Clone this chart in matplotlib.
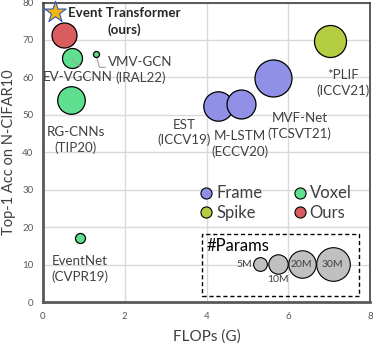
import matplotlib
matplotlib.use("Agg")
import matplotlib.pyplot as plt
import numpy as np

plt.rcParams['font.family'] = ['Lato', 'DejaVu Sans']

# ---- data ----
methods = ["EST\n(ICCV19)", "M-LSTM\n(ECCV20)", "MVF-Net\n(TCSVT21)",
           "EV-VGCNN", "VMV-GCN\n(IRAL22)", "RG-CNNs\n(TIP20)",
           "EventNet\n(CVPR19)", "*PLIF\n(ICCV21)", "Ours"]
flops = [4.29, 4.84, 5.63, 0.70, 1.30, 0.69, 0.91, 7.03, 0.52]
acc = [52.3, 53.0, 59.9, 65.2, 66.3, 54.0, 17.1, 69.6, 71.2]
params_m = [23.0, 22.3, 36.4, 10.6, 0.96, 20.2, 2.66, 27.2, 16.6]
rep = ["Frame", "Frame", "Frame", "Voxel", "Voxel", "Voxel", "Voxel", "Spike", "Ours"]

label_pos = [(3.45, 45.3), (4.82, 42.2), (6.28, 47.0), (0.86, 60.1),
             (2.38, 62.0), (0.80, 43.3), (0.91, 8.8), (7.33, 58.5), None]

legend_sizes = [5, 10, 20, 30]
legend_size_labels = ["5M", "10M", "20M", "30M"]

x_ticks = [0, 2, 4, 6, 8]
y_ticks = [0, 10, 20, 30, 40, 50, 60, 70, 80]

colors = {"Frame": "#8f90e6", "Voxel": "#5fe090", "Spike": "#b4cd42", "Ours": "#d95d5e"}
text_col = "#404040"

def msize(p):
    r_px = 16.8 * np.sqrt(np.asarray(p) / 30.0)
    return (2 * r_px * 0.72) ** 2

fig = plt.figure(figsize=(3.73, 3.44), dpi=100)
ax = fig.add_axes([43/373, 1 - 302/344, 327/373, 299.5/344])
ax.set_xlim(0, 8)
ax.set_ylim(0, 80)
ax.set_xticks(x_ticks)
ax.set_yticks(y_ticks)
ax.grid(True, color="#d9d9d9", linewidth=1.0, zorder=0)
ax.set_axisbelow(True)
ax.tick_params(length=0, labelsize=7, labelcolor="#595959", pad=7)
for s in ["left", "bottom"]:
    ax.spines[s].set_color("#595959")
    ax.spines[s].set_linewidth(2.0)
for s in ["top", "right"]:
    ax.spines[s].set_color("#404040")
    ax.spines[s].set_linewidth(1.2)

ax.set_xlabel("FLOPs (G)", fontsize=11, color=text_col, labelpad=6)
ax.set_ylabel("Top-1 Acc on N-CIFAR10", fontsize=10.5, color=text_col, labelpad=4)

# bubbles
for i in range(len(methods)):
    ax.scatter(flops[i], acc[i], s=msize(params_m[i]), c=colors[rep[i]],
               edgecolors="black", linewidths=0.9, zorder=3)

# labels
for i, m in enumerate(methods):
    if label_pos[i] is None:
        continue
    ax.text(label_pos[i][0], label_pos[i][1], m, ha="center", va="center",
            fontsize=9.6, color=text_col, linespacing=1.3, zorder=4)

# leader lines
ax.plot([1.30, 1.38, 1.52], [66.0, 62.7, 62.7], color="#a0a0a0", lw=0.8, zorder=2)
ax.plot([0.72, 0.89], [64.8, 63.0], color="#a0a0a0", lw=0.8, zorder=4)

# star and ours label
ax.scatter(0.29, 77.5, marker="*", s=260, c="#f5b50a", edgecolors="#2f55c0",
           linewidths=0.8, zorder=5, clip_on=False)
ax.text(1.98, 74.9, "Event Transformer\n(ours)", ha="center", va="center",
        fontsize=9.6, fontweight="bold", color="#262626", linespacing=1.45, zorder=5)

# category legend
handles = [plt.Line2D([], [], marker="o", linestyle="none", markersize=8,
                      markerfacecolor=colors[k], markeredgecolor="black",
                      markeredgewidth=0.8, label=k)
           for k in ["Frame", "Spike", "Voxel", "Ours"]]
leg = ax.legend(handles=handles, ncol=2, loc="center left",
                bbox_to_anchor=(0.473, 0.33), frameon=False, fontsize=12,
                handletextpad=0.1, columnspacing=1.75, labelspacing=0.2,
                borderpad=0, borderaxespad=0, handlelength=1.0)
for t in leg.get_texts():
    t.set_color(text_col)

# size legend box
box = plt.Rectangle((3.9, 1.6), 3.84, 16.5, fill=False, linestyle=(0, (3, 2)),
                    edgecolor="black", linewidth=1.0, zorder=4)
ax.add_patch(box)
ax.text(4.0, 15.0, "#Params", ha="left", va="center", fontsize=12, color="black", zorder=5)
lx = [5.31, 5.74, 6.33, 7.09]
for j, p in enumerate(legend_sizes):
    ax.scatter(lx[j], 10.05, s=msize(p), c="#c0c0c0", edgecolors="black",
               linewidths=0.8, zorder=5)
fs_small = 7.5
ax.text(5.12, 10.05, legend_size_labels[0], ha="right", va="center", fontsize=fs_small, color=text_col, zorder=6)
ax.text(5.74, 6.0, legend_size_labels[1], ha="center", va="center", fontsize=fs_small, color=text_col, zorder=6)
ax.text(6.33, 10.05, legend_size_labels[2], ha="center", va="center", fontsize=fs_small, color=text_col, zorder=6)
ax.text(7.09, 10.05, legend_size_labels[3], ha="center", va="center", fontsize=fs_small, color=text_col, zorder=6)

fig.savefig("out.png", dpi=100)
